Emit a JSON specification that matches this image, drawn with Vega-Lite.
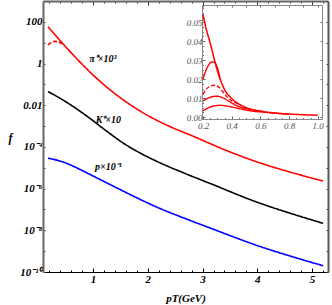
{
  "$schema": "https://vega.github.io/schema/vega-lite/v6.json",
  "width": 285,
  "height": 271,
  "autosize": {"type": "none"},
  "padding": {"left": 43, "top": 1, "right": 4, "bottom": 33},
  "background": "white",
  "config": {
    "view": {"stroke": null},
    "axis": {"grid": false, "labelFont": "Liberation Serif", "titleFont": "Liberation Serif", "labelOverlap": false, "labelBound": false, "labelFlush": false}
  },
  "datasets": {
    "main": [
      {"x": 0.178, "y": 58.9, "s": "pi"},
      {"x": 0.397, "y": 12.8, "s": "pi"},
      {"x": 0.635, "y": 2.64, "s": "pi"},
      {"x": 0.945, "y": 0.389, "s": "pi"},
      {"x": 1.256, "y": 0.0718, "s": "pi"},
      {"x": 1.548, "y": 0.0184, "s": "pi"},
      {"x": 1.858, "y": 0.00533, "s": "pi"},
      {"x": 2.169, "y": 0.00187, "s": "pi"},
      {"x": 2.461, "y": 0.000815, "s": "pi"},
      {"x": 2.772, "y": 0.000376, "s": "pi"},
      {"x": 3.411, "y": 0.0000716, "s": "pi"},
      {"x": 4.05, "y": 0.000017, "s": "pi"},
      {"x": 4.598, "y": 0.0000062, "s": "pi"},
      {"x": 5.201, "y": 0.00000233, "s": "pi"},
      {"x": 0.178, "y": 7.9, "s": "pid"},
      {"x": 0.24, "y": 10.4, "s": "pid"},
      {"x": 0.3, "y": 11.6, "s": "pid"},
      {"x": 0.36, "y": 11.0, "s": "pid"},
      {"x": 0.42, "y": 9.5, "s": "pid"},
      {"x": 0.47, "y": 7.6, "s": "pid"},
      {"x": 0.178, "y": 0.0451, "s": "K"},
      {"x": 0.397, "y": 0.0217, "s": "K"},
      {"x": 0.635, "y": 0.00877, "s": "K"},
      {"x": 0.945, "y": 0.00233, "s": "K"},
      {"x": 1.256, "y": 0.000553, "s": "K"},
      {"x": 1.548, "y": 0.000155, "s": "K"},
      {"x": 1.858, "y": 0.0000514, "s": "K"},
      {"x": 2.169, "y": 0.0000201, "s": "K"},
      {"x": 2.68, "y": 0.00000533, "s": "K"},
      {"x": 3.137, "y": 0.00000177, "s": "K"},
      {"x": 4.05, "y": 0.000000198, "s": "K"},
      {"x": 4.598, "y": 0.000000066, "s": "K"},
      {"x": 5.201, "y": 0.0000000217, "s": "K"},
      {"x": 0.178, "y": 0.0000289, "s": "p"},
      {"x": 0.361, "y": 0.0000224, "s": "p"},
      {"x": 0.525, "y": 0.0000161, "s": "p"},
      {"x": 0.763, "y": 0.0000083, "s": "p"},
      {"x": 1.0, "y": 0.00000405, "s": "p"},
      {"x": 1.438, "y": 0.00000107, "s": "p"},
      {"x": 1.731, "y": 0.000000443, "s": "p"},
      {"x": 2.224, "y": 0.000000111, "s": "p"},
      {"x": 2.68, "y": 0.0000000369, "s": "p"},
      {"x": 3.137, "y": 0.0000000129, "s": "p"},
      {"x": 4.05, "y": 0.00000000167, "s": "p"},
      {"x": 4.598, "y": 0.000000000583, "s": "p"},
      {"x": 5.201, "y": 0.0000000002, "s": "p"}
    ],
    "labels": [
      {"x": 1.18, "y": 1.68, "t": "π⁺×10³"},
      {"x": 1.28, "y": 0.002, "t": "K⁺×10"},
      {"x": 1.28, "y": 0.000011, "t": "p×10⁻¹"}
    ],
    "insetSolid": [
      {"x": 0.2, "y": 0.054},
      {"x": 0.22, "y": 0.047},
      {"x": 0.25, "y": 0.039},
      {"x": 0.28, "y": 0.03},
      {"x": 0.31, "y": 0.022},
      {"x": 0.35, "y": 0.0145},
      {"x": 0.4, "y": 0.0098},
      {"x": 0.45, "y": 0.0068},
      {"x": 0.5, "y": 0.005},
      {"x": 0.6, "y": 0.0031},
      {"x": 0.7, "y": 0.0022},
      {"x": 0.8, "y": 0.0016},
      {"x": 0.9, "y": 0.0013},
      {"x": 1.0, "y": 0.001}
    ],
    "insetDash": [
      {"x": 0.2, "y": 0.02, "s": "A"},
      {"x": 0.22, "y": 0.0245, "s": "A"},
      {"x": 0.24, "y": 0.0275, "s": "A"},
      {"x": 0.26, "y": 0.029, "s": "A"},
      {"x": 0.28, "y": 0.0288, "s": "A"},
      {"x": 0.3, "y": 0.026, "s": "A"},
      {"x": 0.32, "y": 0.02, "s": "A"},
      {"x": 0.2, "y": 0.012, "s": "B"},
      {"x": 0.22, "y": 0.0145, "s": "B"},
      {"x": 0.25, "y": 0.0162, "s": "B"},
      {"x": 0.28, "y": 0.0168, "s": "B"},
      {"x": 0.31, "y": 0.0158, "s": "B"},
      {"x": 0.34, "y": 0.0132, "s": "B"},
      {"x": 0.37, "y": 0.0105, "s": "B"},
      {"x": 0.4, "y": 0.0085, "s": "B"},
      {"x": 0.43, "y": 0.0075, "s": "B"},
      {"x": 0.47, "y": 0.006, "s": "B"},
      {"x": 0.2, "y": 0.0085, "s": "C"},
      {"x": 0.23, "y": 0.0098, "s": "C"},
      {"x": 0.27, "y": 0.0108, "s": "C"},
      {"x": 0.3, "y": 0.011, "s": "C"},
      {"x": 0.33, "y": 0.0104, "s": "C"},
      {"x": 0.37, "y": 0.0088, "s": "C"},
      {"x": 0.42, "y": 0.0066, "s": "C"},
      {"x": 0.47, "y": 0.005, "s": "C"},
      {"x": 0.52, "y": 0.0042, "s": "C"},
      {"x": 0.58, "y": 0.0034, "s": "C"},
      {"x": 0.62, "y": 0.003, "s": "C"},
      {"x": 0.2, "y": 0.0032, "s": "D"},
      {"x": 0.24, "y": 0.005, "s": "D"},
      {"x": 0.28, "y": 0.0059, "s": "D"},
      {"x": 0.32, "y": 0.0062, "s": "D"},
      {"x": 0.36, "y": 0.0059, "s": "D"},
      {"x": 0.42, "y": 0.005, "s": "D"},
      {"x": 0.48, "y": 0.004, "s": "D"},
      {"x": 0.55, "y": 0.0031, "s": "D"},
      {"x": 0.62, "y": 0.0026, "s": "D"},
      {"x": 0.7, "y": 0.0021, "s": "D"},
      {"x": 0.8, "y": 0.0016, "s": "D"}
    ]
  },
  "resolve": {"scale": {"x": "independent", "y": "independent"}},
  "layer": [
    {
      "data": {"name": "main"},
      "mark": {"type": "line", "strokeWidth": 1.6, "interpolate": "monotone"},
      "encoding": {
        "x": {
          "field": "x", "type": "quantitative",
          "scale": {"domain": [0.087, 5.29], "nice": false, "zero": false},
          "axis": {
            "orient": "bottom",
            "values": [0.2, 0.4, 0.6, 0.8, 1, 1.2, 1.4, 1.6, 1.8, 2, 2.2, 2.4, 2.6, 2.8, 3, 3.2, 3.4, 3.6, 3.8, 4, 4.2, 4.4, 4.6, 4.8, 5, 5.2],
            "labelExpr": "datum.value % 1 == 0 ? format(datum.value, 'd') : ''",
            "tickSize": {"condition": {"test": "datum.value % 1 == 0", "value": -4}, "value": -2},
            "tickColor": "black",
            "domainColor": "black",
            "domainWidth": 1.2,
            "labelColor": "black",
            "labelFontSize": 11,
            "labelFontStyle": "italic",
            "labelFontWeight": "bold",
            "labelPadding": 5,
            "title": "pT(GeV)",
            "titleFontSize": 11,
            "titleFontStyle": "italic",
            "titleFontWeight": "bold",
            "titleColor": "black",
            "titlePadding": 6
          }
        },
        "y": {
          "field": "y", "type": "quantitative",
          "scale": {"type": "log", "domain": [1e-10, 1000], "nice": false},
          "axis": {
            "orient": "left",
            "values": [0.0000000001, 0.000000001, 0.00000001, 0.0000001, 0.000001, 0.00001, 0.0001, 0.001, 0.01, 0.1, 1, 10, 100, 1000],
            "labelExpr": "datum.value == 100 ? '100' : datum.value == 1 ? '1' : datum.value == 0.01 ? '0.01' : datum.value == 0.0001 ? '10⁻⁴' : datum.value == 0.000001 ? '10⁻⁶' : datum.value == 0.00000001 ? '10⁻⁸' : datum.value == 0.0000000001 ? '10⁻¹⁰' : ''",
            "tickSize": -2,
            "tickColor": "#444",
            "domainColor": "#666",
            "domainWidth": 2,
            "labelColor": "black",
            "labelFontSize": 11,
            "labelFontStyle": "italic",
            "labelFontWeight": "bold",
            "labelPadding": 3,
            "title": "f",
            "titleAngle": 0,
            "titleX": -33,
            "titleY": 136,
            "titleAlign": "center",
            "titleBaseline": "middle",
            "titleFontSize": 12,
            "titleFontStyle": "italic",
            "titleFontWeight": "bold",
            "titleColor": "black"
          }
        },
        "color": {"field": "s", "type": "nominal", "scale": {"domain": ["pi", "pid", "K", "p"], "range": ["#ff0000", "#ff0000", "#000000", "#0000ff"]}, "legend": null},
        "strokeDash": {"field": "s", "type": "nominal", "scale": {"domain": ["pi", "pid", "K", "p"], "range": [[1, 0], [4, 2], [1, 0], [1, 0]]}, "legend": null}
      }
    },
    {
      "data": {"name": "labels"},
      "mark": {"type": "text", "font": "Liberation Serif", "fontStyle": "italic", "fontWeight": "bold", "fontSize": 10, "color": "black"},
      "encoding": {
        "x": {
          "field": "x", "type": "quantitative",
          "scale": {"domain": [0.087, 5.29], "nice": false, "zero": false},
          "axis": {
            "orient": "top",
            "values": [0.2, 0.4, 0.6, 0.8, 1, 1.2, 1.4, 1.6, 1.8, 2, 2.2, 2.4, 2.6, 2.8, 3, 3.2, 3.4, 3.6, 3.8, 4, 4.2, 4.4, 4.6, 4.8, 5, 5.2],
            "labels": false,
            "tickSize": {"condition": {"test": "datum.value % 1 == 0", "value": -4}, "value": -2},
            "tickColor": "#333",
            "domainColor": "#666",
            "domainWidth": 2,
            "title": null
          }
        },
        "y": {
          "field": "y", "type": "quantitative",
          "scale": {"type": "log", "domain": [1e-10, 1000], "nice": false},
          "axis": {
            "orient": "right",
            "values": [0.0000000001, 0.000000001, 0.00000001, 0.0000001, 0.000001, 0.00001, 0.0001, 0.001, 0.01, 0.1, 1, 10, 100, 1000],
            "labels": false,
            "tickSize": -2,
            "tickColor": "#444",
            "domainColor": "#555",
            "domainWidth": 2,
            "title": null
          }
        },
        "text": {"field": "t", "type": "nominal"}
      }
    },
    {
      "data": {"name": "insetSolid"},
      "mark": {"type": "line", "strokeWidth": 1.5, "color": "#ff0000", "interpolate": "monotone"},
      "encoding": {
        "x": {
          "field": "x", "type": "quantitative",
          "scale": {"domain": [0.193, 1.03], "range": [159, 279], "nice": false, "zero": false},
          "axis": {
            "orient": "top", "offset": -4,
            "values": [0.2, 0.3, 0.4, 0.5, 0.6, 0.7, 0.8, 0.9, 1.0],
            "labels": false, "tickSize": -2, "tickColor": "#666",
            "domainColor": "#888", "domainWidth": 1, "title": null
          }
        },
        "y": {
          "field": "y", "type": "quantitative",
          "scale": {"domain": [-0.001, 0.059], "range": [118, 4], "nice": false, "zero": false},
          "axis": {
            "orient": "right", "offset": -6,
            "values": [0, 0.01, 0.02, 0.03, 0.04, 0.05],
            "labels": false, "tickSize": -2, "tickColor": "#666",
            "domainColor": "#888", "domainWidth": 1, "title": null
          }
        }
      }
    },
    {
      "data": {"name": "insetDash"},
      "mark": {"type": "line", "strokeWidth": 1.4, "color": "#ff0000", "interpolate": "monotone"},
      "encoding": {
        "x": {
          "field": "x", "type": "quantitative",
          "scale": {"domain": [0.193, 1.03], "range": [159, 279], "nice": false, "zero": false},
          "axis": {
            "orient": "bottom", "offset": -153,
            "values": [0.2, 0.25, 0.3, 0.35, 0.4, 0.45, 0.5, 0.55, 0.6, 0.65, 0.7, 0.75, 0.8, 0.85, 0.9, 0.95, 1.0],
            "labelExpr": "round(datum.value * 20) % 4 == 0 ? format(datum.value, '.1f') : ''",
            "tickSize": {"condition": {"test": "round(datum.value * 20) % 4 == 0", "value": -3}, "value": -1.5},
            "tickColor": "#666",
            "domainColor": "#888", "domainWidth": 1,
            "labelColor": "#555", "labelFontSize": 9, "labelFontStyle": "italic",
            "labelPadding": 5,
            "title": null
          }
        },
        "y": {
          "field": "y", "type": "quantitative",
          "scale": {"domain": [-0.001, 0.059], "range": [118, 4], "nice": false, "zero": false},
          "axis": {
            "orient": "left", "offset": -159,
            "values": [0, 0.0025, 0.005, 0.0075, 0.01, 0.0125, 0.015, 0.0175, 0.02, 0.0225, 0.025, 0.0275, 0.03, 0.0325, 0.035, 0.0375, 0.04, 0.0425, 0.045, 0.0475, 0.05, 0.0525, 0.055, 0.0575],
            "labelExpr": "round(datum.value * 400) % 4 == 0 ? format(datum.value, '.2f') : ''",
            "tickSize": {"condition": {"test": "round(datum.value * 400) % 4 == 0", "value": -3}, "value": -1.5},
            "tickColor": "#666",
            "domainColor": "#888", "domainWidth": 1,
            "labelColor": "#555", "labelFontSize": 9, "labelFontStyle": "italic",
            "labelPadding": 3,
            "title": null
          }
        },
        "strokeDash": {"field": "s", "type": "nominal", "scale": {"domain": ["A", "B", "C", "D"], "range": [[7, 3], [6, 2, 2, 2], [2, 2], [5, 2.5]]}, "legend": null}
      }
    }
  ]
}
